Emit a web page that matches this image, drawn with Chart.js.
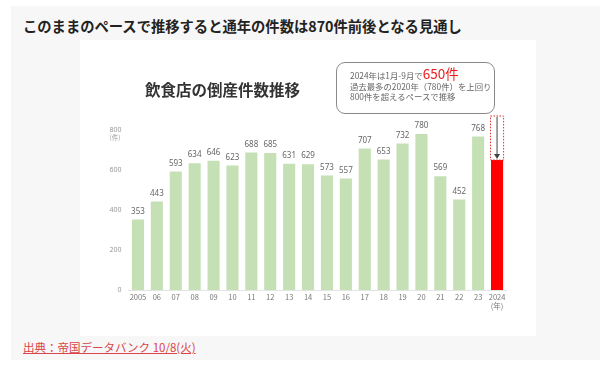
<!DOCTYPE html>
<html>
<head>
<meta charset="utf-8">
<script src="https://cdn.jsdelivr.net/npm/chart.js@4"></script>
<style>
  body { margin: 0; background: #fff; font-family: "Noto Sans CJK JP", "Noto Sans", sans-serif; }
  #page { position: relative; width: 600px; height: 367px; overflow: hidden; }
  #panel { position: absolute; left: 11px; top: 6px; width: 589px; height: 354px; background: #f7f7f7; }
  #headline { position: absolute; left: 23px; top: 15px; font-size: 14.3px; font-weight: bold; color: #222; white-space: nowrap; }
  #img { position: absolute; left: 80px; top: 40px; width: 456px; height: 296px; background: #fff; }
  #ctitle { position: absolute; left: 65px; top: 38px; font-size: 15.5px; font-weight: bold; color: #333; white-space: nowrap; }
  #callout { position: absolute; left: 256px; top: 22px; width: 159px; height: 52px; border: 1px solid #8a8a8a; border-radius: 9px; background: #fff; box-sizing: border-box; padding: 5px 0 0 13px; font-size: 8.4px; color: #666; line-height: 10.5px; white-space: nowrap; }
  #callout b { color: #ee1c1c; font-size: 13.5px; font-weight: normal; }
  #source { position: absolute; left: 23px; top: 339px; font-size: 11.5px; color: #d9454a; text-decoration: underline; white-space: nowrap; }
  canvas { position: absolute; left: 0; top: 0; }
</style>
</head>
<body>
<div id="page">
  <div id="panel"></div>
  <div id="headline">このままのペースで推移すると通年の件数は870件前後となる見通し</div>
  <div id="img">
    <canvas id="chart" width="456" height="296"></canvas>
    <div id="ctitle">飲食店の倒産件数推移</div>
    <div id="callout">2024年は1月-9月で<b>650件</b><br>過去最多の2020年（780件）を上回り<br>800件を超えるペースで推移</div>
  </div>
  <div id="source">出典：帝国データバンク 10/8(火)</div>
</div>
<script>
const years = ['2005', '06', '07', '08', '09', '10', '11', '12', '13', '14', '15', '16', '17', '18', '19', '20', '21', '22', '23', ['2024', '(年)']];
const cases = [353, 443, 593, 634, 646, 623, 688, 685, 631, 629, 573, 557, 707, 653, 732, 780, 569, 452, 768, 650];
const projected2024 = 870;
const yTicks = [0, 200, 400, 600, 800];

const barColors = cases.map((v, i) => i === cases.length - 1 ? '#ff0000' : '#c5e0b4');

// value labels, dotted projection box, arrow, (件) unit
const extras = {
  id: 'extras',
  afterDatasetsDraw(chart) {
    const ctx = chart.ctx;
    const meta = chart.getDatasetMeta(0);
    const y = chart.scales.y;
    ctx.save();
    ctx.font = '8px "Noto Sans", sans-serif';
    ctx.fillStyle = '#666';
    ctx.textAlign = 'center';
    ctx.textBaseline = 'bottom';
    meta.data.forEach((bar, i) => {
      if (i === cases.length - 1) return;
      ctx.fillText(cases[i], bar.x, bar.y - 4);
    });

    // projection outline
    const last = meta.data[cases.length - 1];
    const top = y.getPixelForValue(projected2024);
    const w = last.width + 1;
    ctx.strokeStyle = '#e03030';
    ctx.lineWidth = 1;
    ctx.setLineDash([1.5, 1.5]);
    ctx.strokeRect(last.x - w / 2, top, w, last.y - top);
    ctx.setLineDash([]);

    // arrow
    ctx.strokeStyle = '#444';
    ctx.beginPath();
    ctx.moveTo(last.x, top + 1);
    ctx.lineTo(last.x, last.y - 4);
    ctx.stroke();
    ctx.fillStyle = '#444';
    ctx.beginPath();
    ctx.moveTo(last.x - 3, last.y - 6);
    ctx.lineTo(last.x + 3, last.y - 6);
    ctx.lineTo(last.x, last.y - 1);
    ctx.closePath();
    ctx.fill();

    // unit under 800
    ctx.font = '6.5px "Noto Sans CJK JP", sans-serif';
    ctx.fillStyle = '#999';
    ctx.textAlign = 'right';
    ctx.textBaseline = 'middle';
    ctx.fillText('(件)', chart.chartArea.left - 8, y.getPixelForValue(800) + 8);
    ctx.restore();
  }
};

new Chart(document.getElementById('chart'), {
  type: 'bar',
  data: {
    labels: years,
    datasets: [{
      data: cases,
      backgroundColor: barColors,
      borderWidth: 0,
      categoryPercentage: 1,
      barPercentage: 0.64
    }]
  },
  options: {
    responsive: false,
    animation: false,
    layout: { padding: { left: 8.5, right: 29.5, top: 90, bottom: 14 } },
    plugins: { legend: { display: false }, tooltip: { enabled: false } },
    scales: {
      x: {
        grid: { display: false, drawTicks: false },
        border: { color: '#e4e4e4' },
        ticks: { color: '#777', font: { size: 7.5, family: '"Noto Sans CJK JP", sans-serif' }, padding: 3, maxRotation: 0, autoSkip: false },
        afterFit(s) { s.height = 32; }
      },
      y: {
        min: 0, max: 800,
        afterBuildTicks(s) { s.ticks = yTicks.map(v => ({ value: v })); },
        grid: { display: false, drawTicks: false },
        border: { display: false },
        ticks: { color: '#999', font: { size: 7, family: '"Noto Sans", sans-serif' }, padding: 7 },
        afterFit(s) { s.width = 40; }
      }
    }
  },
  plugins: [extras]
});
</script>
</body>
</html>
